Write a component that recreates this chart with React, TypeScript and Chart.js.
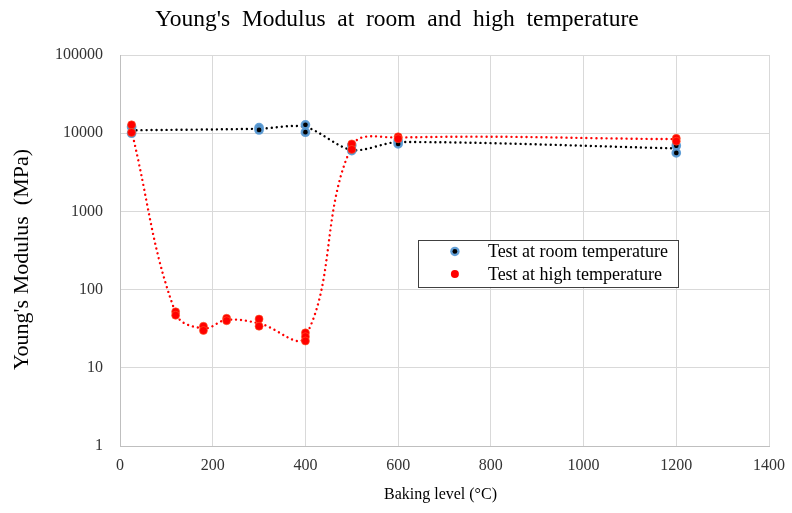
import React, { useEffect, useRef } from "react";
import { Chart, registerables } from "chart.js";
Chart.register(...registerables);

// Measured points: room-temperature tests
const roomX = [25, 25, 300, 300, 400, 400, 500, 500, 600, 600, 1200, 1200];
const roomY = [12000, 10000, 11800, 11000, 12800, 10300, 7000, 6000, 7900, 7300, 6900, 5600];
// Measured points: high-temperature tests
const highX = [25, 25, 120, 120, 180, 180, 230, 230, 300, 300, 400, 400, 400, 500, 500, 600, 600, 1200, 1200];
const highY = [12800, 10200, 52, 47, 34, 30, 43, 40, 42, 34, 28, 25, 22, 7300, 6200, 9000, 8500, 8600, 7900];
// Trend (smoothed) lines through averages
const roomTrendX = [25, 300, 400, 500, 600, 1200];
const roomTrendY = [10900, 11400, 12000, 6100, 7700, 6400];
const highTrendX = [25, 120, 180, 230, 300, 400, 500, 600, 1200];
const highTrendY = [10700, 50, 32, 41, 37, 25, 6800, 8800, 8400];

const yTicks = [1, 10, 100, 1000, 10000, 100000];
const xTicks = [0, 200, 400, 600, 800, 1000, 1200, 1400];

const titleText = "Young's  Modulus  at  room  and  high  temperature";
const xTitle = "Baking level (°C)";
const yTitle = "Young's Modulus  (MPa)";
const legendLabels = ["Test at room temperature", "Test at high temperature"];

const FONT = "'Liberation Serif', 'Times New Roman', serif";
const BLUE = "rgba(91,155,213,0.95)";
const RED = "#ff0000";

const zip = (xs: number[], ys: number[]) => xs.map((x, i) => ({ x, y: ys[i] }));

function drawRoomMarker(ctx: CanvasRenderingContext2D, x: number, y: number) {
  ctx.beginPath();
  ctx.arc(x, y, 4.7, 0, Math.PI * 2);
  ctx.fillStyle = BLUE;
  ctx.fill();
  ctx.beginPath();
  ctx.arc(x, y, 2.4, 0, Math.PI * 2);
  ctx.fillStyle = "#000";
  ctx.fill();
}
function drawHighMarker(ctx: CanvasRenderingContext2D, x: number, y: number) {
  ctx.beginPath();
  ctx.arc(x, y, 4, 0, Math.PI * 2);
  ctx.fillStyle = RED;
  ctx.fill();
}

const textPlugin = {
  id: "textPlugin",
  afterDraw(chart: any) {
    const { ctx, chartArea: a, width } = chart;
    ctx.save();
    ctx.fillStyle = "#000";
    ctx.textAlign = "center";
    ctx.textBaseline = "middle";
    // Chart title
    ctx.font = `23.5px ${FONT}`;
    ctx.fillText(titleText, width / 2 + 1, 20);
    // X axis title
    ctx.font = `16px ${FONT}`;
    ctx.fillText(xTitle, (a.left + a.right) / 2 - 4, 495);
    // Y axis title
    ctx.save();
    ctx.translate(22, (a.top + a.bottom) / 2 + 9);
    ctx.rotate(-Math.PI / 2);
    ctx.font = `22px ${FONT}`;
    ctx.fillText(yTitle, 0, 0);
    ctx.restore();

    // Legend box
    const w = a.right - a.left;
    const h = a.bottom - a.top;
    const x0 = a.left + 0.459 * w;
    const x1 = a.left + 0.86 * w;
    const y0 = a.top + 0.473 * h;
    const y1 = a.top + 0.593 * h;
    ctx.fillStyle = "#fff";
    ctx.fillRect(x0, y0, x1 - x0, y1 - y0);
    ctx.strokeStyle = "#404040";
    ctx.lineWidth = 1;
    ctx.strokeRect(Math.round(x0) + 0.5, Math.round(y0) + 0.5, Math.round(x1 - x0), Math.round(y1 - y0));
    const mx = x0 + 37;
    const tx = x0 + 70;
    const r1 = y0 + 11.5;
    const r2 = y0 + 34;
    drawRoomMarker(ctx, mx, r1);
    drawHighMarker(ctx, mx, r2);
    ctx.fillStyle = "#000";
    ctx.font = `18px ${FONT}`;
    ctx.textAlign = "left";
    ctx.fillText(legendLabels[0], tx, r1 + 1);
    ctx.fillText(legendLabels[1], tx, r2 + 1);
    ctx.restore();
  },
};

export default function App() {
  const ref = useRef<HTMLCanvasElement>(null);
  useEffect(() => {
    const canvas = ref.current!;
    const chart = new Chart(canvas, {
      type: "scatter",
      data: {
        datasets: [
          {
            label: legendLabels[1],
            data: zip(highX, highY),
            showLine: false,
            pointRadius: 4,
            pointBackgroundColor: RED,
            pointBorderColor: "rgba(255,90,40,0.6)",
            pointBorderWidth: 1,
            order: 0,
          },
          {
            label: legendLabels[0],
            data: zip(roomX, roomY),
            showLine: false,
            pointRadius: 3.6,
            pointBackgroundColor: "#000",
            pointBorderColor: BLUE,
            pointBorderWidth: 2.5,
            order: 1,
          },
          {
            label: "high trend",
            data: zip(highTrendX, highTrendY),
            showLine: true,
            pointRadius: 0,
            borderColor: RED,
            borderWidth: 2.4,
            borderDash: [0.01, 5],
            borderCapStyle: "round",
            tension: 0.4,
            order: 2,
          },
          {
            label: "room trend",
            data: zip(roomTrendX, roomTrendY),
            showLine: true,
            pointRadius: 0,
            borderColor: "#000",
            borderWidth: 2.4,
            borderDash: [0.01, 5],
            borderCapStyle: "round",
            tension: 0.3,
            order: 3,
          },
        ],
      },
      options: {
        responsive: false,
        animation: false,
        layout: { padding: { left: 0, right: 23, top: 55, bottom: 0 } },
        plugins: {
          legend: { display: false },
          tooltip: { enabled: false },
          title: { display: false },
        },
        scales: {
          x: {
            type: "linear",
            min: 0,
            max: 1400,
            afterBuildTicks: (s: any) => {
              s.ticks = xTicks.map((v) => ({ value: v }));
            },
            afterFit: (s: any) => {
              s.height = 67;
              s.paddingRight = 0;
              s.paddingLeft = 0;
            },
            ticks: {
              color: "#333",
              font: { family: FONT, size: 16 },
              padding: 10,
              maxRotation: 0,
              callback: (v: any) => String(v),
            },
            grid: { color: "#d9d9d9", lineWidth: 1, drawTicks: false },
            border: { color: "#bfbfbf" },
          },
          y: {
            type: "logarithmic",
            min: 1,
            max: 100000,
            afterBuildTicks: (s: any) => {
              s.ticks = yTicks.map((v) => ({ value: v }));
            },
            afterFit: (s: any) => {
              s.width = 120;
              s.paddingTop = 0;
              s.paddingBottom = 0;
            },
            ticks: {
              color: "#333",
              font: { family: FONT, size: 16 },
              padding: 17,
              callback: (v: any) => String(v),
            },
            grid: { color: "#d9d9d9", lineWidth: 1, drawTicks: false },
            border: { color: "#bfbfbf" },
          },
        },
      },
      plugins: [textPlugin],
    } as any);
    return () => chart.destroy();
  }, []);
  return (
    <div style={{ position: "absolute", left: 0, top: 0, width: 792, height: 513, background: "#fff" }}>
      <canvas ref={ref} width={792} height={513} />
    </div>
  );
}
